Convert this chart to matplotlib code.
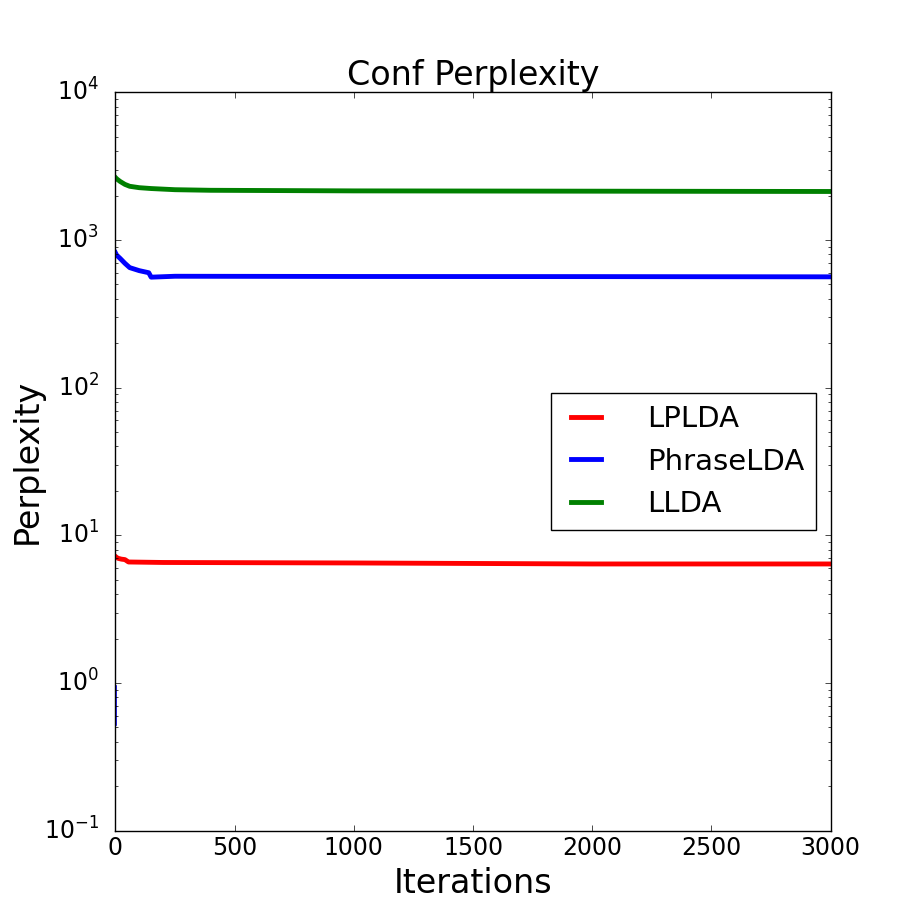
import matplotlib
matplotlib.use('Agg')
import matplotlib.pyplot as plt

# values
lplda_x = [0, 10, 25, 40, 55, 200, 1000, 2000, 3000]
lplda_y = [7.2, 7.0, 6.9, 6.85, 6.6, 6.55, 6.5, 6.4, 6.4]

phrase_x = [0, 5, 20, 40, 60, 100, 140, 150, 250, 1000, 2000, 3000]
phrase_y = [820, 790, 750, 695, 650, 620, 600, 560, 568, 566, 565, 563]

llda_x = [0, 5, 10, 20, 40, 60, 100, 150, 250, 400, 1000, 2000, 3000]
llda_y = [2650, 2600, 2560, 2490, 2380, 2310, 2260, 2230, 2190, 2170, 2150, 2140, 2130]

# short blue stub at iteration 0
stub_x = [4, 4]
stub_y = [0.52, 0.95]

plt.style.use('classic')
fig = plt.figure(figsize=(9.23, 9.23), dpi=100)
ax = fig.add_subplot(111)

ax.plot(lplda_x, lplda_y, color='r', lw=3.5, label='LPLDA')
ax.plot(phrase_x, phrase_y, color='b', lw=3.5, label='PhraseLDA')
ax.plot(llda_x, llda_y, color='g', lw=3.5, label='LLDA')
ax.plot(stub_x, stub_y, color='b', lw=1.2)

ax.set_yscale('log')
ax.set_xlim(0, 3000)
ax.set_ylim(0.1, 1e4)
ax.set_title('Conf Perplexity', fontsize=24)
ax.set_xlabel('Iterations', fontsize=24)
ax.set_ylabel('Perplexity', fontsize=24, labelpad=0)
ax.tick_params(labelsize=17)
ax.tick_params(axis='y', which='major', pad=12)
ax.legend(loc='center right', fontsize=21, labelspacing=0.5,
          handlelength=1.6, handletextpad=1.3)

fig.savefig('out.png', dpi=100)
